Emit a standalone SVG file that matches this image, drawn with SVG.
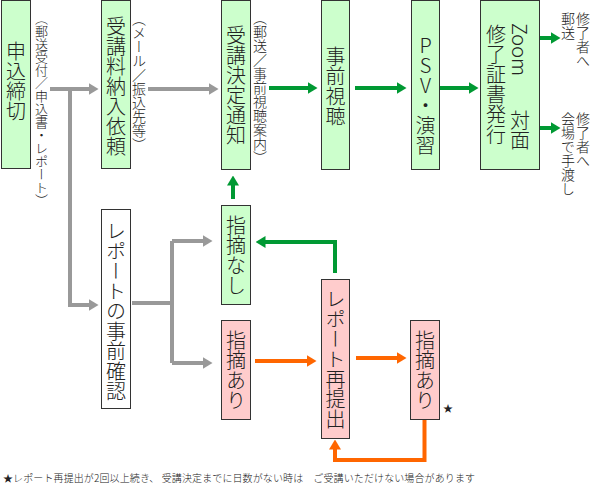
<svg xmlns="http://www.w3.org/2000/svg" width="594" height="487" viewBox="0 0 594 487">
<style>
text{font-family:"Noto Sans CJK JP","Noto Sans",sans-serif;fill:#222;font-weight:300}
.v{writing-mode:vertical-rl;font-size:20px}
.s{writing-mode:vertical-rl;font-size:14px}
.up{text-orientation:upright}
.g{fill:#ccffcc;stroke:#333;stroke-width:1}
.p{fill:#ffcccc;stroke:#333;stroke-width:1}
.w{fill:#fff;stroke:#333;stroke-width:1}
.cg{fill:none;stroke:#999999;stroke-width:4}
.cn{fill:none;stroke:#009933;stroke-width:4}
.co{fill:none;stroke:#ff6600;stroke-width:4}
</style>
<defs>
<marker id="ag" markerUnits="userSpaceOnUse" viewBox="0 0 10 12" markerWidth="10" markerHeight="12" refX="0.5" refY="6" orient="auto"><path d="M0,0L10,6L0,12z" fill="#999999"/></marker>
<marker id="an" markerUnits="userSpaceOnUse" viewBox="0 0 10 12" markerWidth="10" markerHeight="12" refX="0.5" refY="6" orient="auto"><path d="M0,0L10,6L0,12z" fill="#009933"/></marker>
<marker id="ao" markerUnits="userSpaceOnUse" viewBox="0 0 10 12" markerWidth="10" markerHeight="12" refX="0.5" refY="6" orient="auto"><path d="M0,0L10,6L0,12z" fill="#ff6600"/></marker>
</defs>
<rect width="594" height="487" fill="#fff"/>
<g id="connectors">
<path class="cg" d="M50,89H89" marker-end="url(#ag)"/>
<path class="cg" d="M70,89V305H89" marker-end="url(#ag)"/>
<path class="cg" d="M148,89H209" marker-end="url(#ag)"/>
<path class="cg" d="M132,303H172"/>
<path class="cg" d="M172,241V363"/>
<path class="cg" d="M172,241H203" marker-end="url(#ag)"/>
<path class="cg" d="M172,363H203" marker-end="url(#ag)"/>
<path class="cn" d="M269,88H308" marker-end="url(#an)"/>
<path class="cn" d="M355,88H397" marker-end="url(#an)"/>
<path class="cn" d="M440,88H469" marker-end="url(#an)"/>
<path class="cn" d="M540,38H551" marker-end="url(#an)"/>
<path class="cn" d="M540,128H551" marker-end="url(#an)"/>
<path class="cn" d="M233,199V185" marker-end="url(#an)"/>
<path class="cn" d="M335,273V242H265" marker-end="url(#an)"/>
<path class="co" d="M255,361H307" marker-end="url(#ao)"/>
<path class="co" d="M356,358H397" marker-end="url(#ao)"/>
<path class="co" d="M424.5,419V460H335V449" marker-end="url(#ao)"/>
</g>
<g id="labels">
<text class="s" x="41.5" y="12" style="font-size:13px">（郵送受付／申込書・レポート）</text>
<text class="s" x="139" y="12">（メール／振込先等）</text>
<text class="s" x="260" y="11">（郵送／事前視聴案内）</text>
<text class="s" x="583" y="12">修了者へ</text>
<text class="s" x="568" y="12">郵送</text>
<text class="s" x="583" y="112">修了者へ</text>
<text class="s" x="568" y="112">会場で手渡し</text>
</g>
<g id="n1"><rect class="g" x="1.5" y="0.5" width="29" height="168"/><text class="v" x="16" y="41">申込締切</text></g>
<g id="n2"><rect class="g" x="101.5" y="0.5" width="29" height="168"/><text class="v" x="116" y="16">受講料納入依頼</text></g>
<g id="n3"><rect class="g" x="221.5" y="0.5" width="29" height="169"/><text class="v" x="236" y="25">受講決定通知</text></g>
<g id="n4"><rect class="g" x="321.5" y="0.5" width="28" height="169"/><text class="v" x="335.5" y="46">事前視聴</text></g>
<g id="n5"><rect class="g" x="411.5" y="0.5" width="28" height="169"/><text class="v up" x="425.5" y="35">PSV・演習</text></g>
<g id="n6"><rect class="g" x="480.5" y="0.5" width="59" height="169"/><text class="v" x="520" y="23">Zoom</text><text class="v" x="520" y="110">対面</text><text class="v" x="496" y="24.5">修了証書発行</text></g>
<g id="n7"><rect class="w" x="101.5" y="209.5" width="29" height="199"/><text class="v" x="116" y="221">レポートの事前確認</text></g>
<g id="n8"><rect class="g" x="221.5" y="205.5" width="29" height="99"/><text class="v" x="236" y="215.5">指摘なし</text></g>
<g id="n9"><rect class="p" x="221.5" y="320.5" width="29" height="99"/><text class="v" x="236" y="330">指摘あり</text></g>
<g id="n10"><rect class="p" x="321.5" y="279.5" width="28" height="159"/><text class="v" x="335.5" y="289">レポート再提出</text></g>
<g id="n11"><rect class="p" x="410.5" y="320.5" width="29" height="99"/><text class="v" x="425" y="330">指摘あり</text></g>
<text x="448" y="412" font-size="10" text-anchor="middle">★</text>
<text x="3" y="482" font-size="10" textLength="472">★レポート再提出が2回以上続き、 受講決定までに日数がない時は　ご受講いただけない場合があります</text>
</svg>
